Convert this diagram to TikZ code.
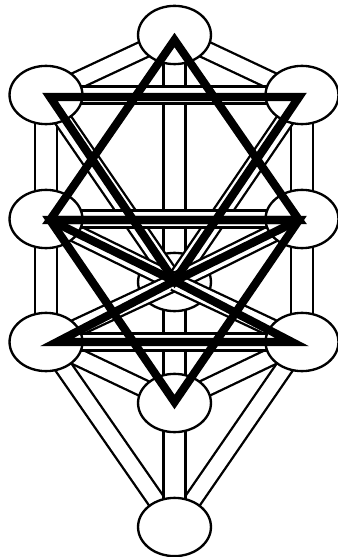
\documentclass[tikz,border=0pt]{standalone}
\usepackage{tikz}
\usetikzlibrary{shapes.geometric}
\pgfdeclarelayer{back}
\pgfdeclarelayer{mid}
\pgfdeclarelayer{over}
\pgfsetlayers{back,mid,over,main}

\begin{document}
\begin{tikzpicture}[x=0.85pt,y=-0.85pt,line join=miter,
  sef/.style={draw,ellipse,line width=2pt,fill=white,minimum width=62pt,minimum height=49.5pt,inner sep=0pt},
  chan/.style={line width=2pt,double=white,double distance=12.5pt},
  pillar/.style={chan,double distance=16.7pt},
  star/.style={line width=7pt}]
\useasboundingbox (0,0) rectangle (337,557);
% sephiroth
\node[sef] (kether) at (174.5,35) {};
\node[sef] (binah) at (46,95) {};
\node[sef] (chokmah) at (302,95) {};
\node[sef] (geburah) at (46,219) {};
\node[sef] (chesed) at (302,219) {};
\begin{pgfonlayer}{mid}
\node[sef] (tiphareth) at (174.5,282) {};
\end{pgfonlayer}
\node[sef] (hod) at (46,342) {};
\node[sef] (netzach) at (302,342) {};
\node[sef] (yesod) at (174.5,403) {};
\node[sef] (malkuth) at (174.5,527) {};
% paths
\begin{pgfonlayer}{back}
\foreach \a/\b in {kether/binah,kether/chokmah,hod/yesod,netzach/yesod,
  hod/malkuth,netzach/malkuth}
  \draw[chan] (\a.center) -- (\b.center);
\foreach \a/\b in {kether/tiphareth,binah/geburah,chokmah/chesed,geburah/hod,
  chesed/netzach,tiphareth/yesod,yesod/malkuth}
  \draw[pillar] (\a.center) -- (\b.center);
\end{pgfonlayer}
\begin{pgfonlayer}{over}
\foreach \a in {binah,chokmah,geburah,chesed,hod,netzach}
  \draw[chan] (\a.center) -- (tiphareth.center);
\foreach \a/\b in {binah/chokmah,geburah/chesed,hod/netzach}
  \draw[chan] (\a.center) -- (\b.center);
\end{pgfonlayer}
% the two stars
\coordinate (t) at (174.5,40);
\coordinate (l1) at (50,97);
\coordinate (r1) at (299,97);
\coordinate (l2) at (50,220);
\coordinate (r2) at (299,220);
\coordinate (l3) at (57,342);
\coordinate (r3) at (292,342);
\coordinate (c) at (174.5,281);
\coordinate (b) at (174.5,402);
\draw[star] (t) -- (l2) -- (r2) -- cycle;
\draw[star] (l1) -- (r1) -- (c) -- cycle;
\draw[star] (l2) -- (b) -- (r2) -- cycle;
\draw[star] (l3) -- (r3) -- (c) -- cycle;
\draw[star] (l2) -- (c) -- (r2);
\end{tikzpicture}
\end{document}
